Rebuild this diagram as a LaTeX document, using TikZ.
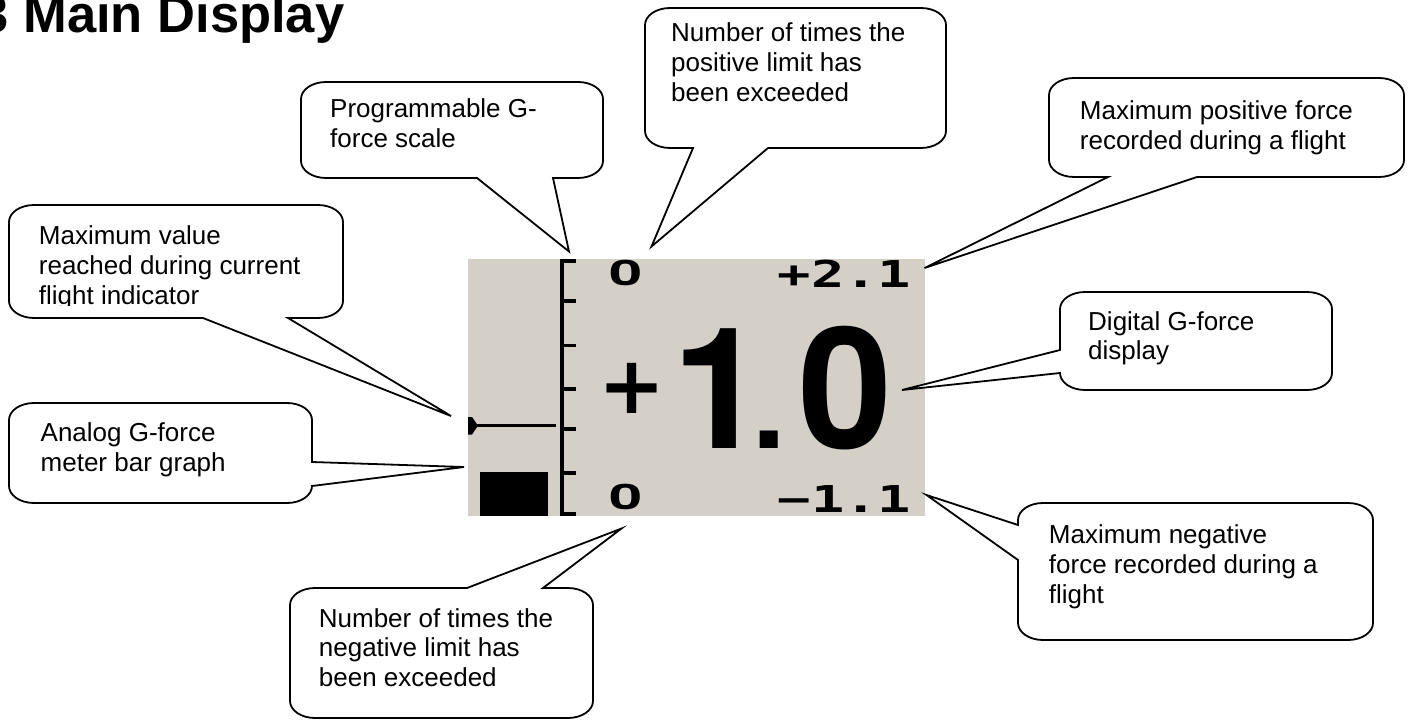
\documentclass[tikz,border=0pt]{standalone}
\usepackage{fontspec}
\usepackage{graphicx}
\setmainfont{Liberation Sans}
\newfontfamily\lcdmono{DejaVu Sans Mono}
\newfontfamily\plusfont{DejaVu Sans}
\newfontfamily\heros{TeX Gyre Heros}
\definecolor{lcdgray}{HTML}{D4D0C8}
\newcommand\ctext[1]{\vtop{\baselineskip=29.9pt\lineskiplimit=-50pt\halign{##\hfil\cr#1\crcr}}}
\def\rx{25}
\def\ry{17}
% callout outlines: x1 y1 x2 y2 a b tip
\newcommand\cobottom[7]{\draw[calloutline] (#1,#2+\ry) arc[start angle=180,end angle=270,x radius=\rx,y radius=\ry] -- (#3-\rx,#2) arc[start angle=270,end angle=360,x radius=\rx,y radius=\ry] -- (#3,#4-\ry) arc[start angle=0,end angle=90,x radius=\rx,y radius=\ry] -- (#6,#4) -- (#7) -- (#5,#4) -- (#1+\rx,#4) arc[start angle=90,end angle=180,x radius=\rx,y radius=\ry] -- cycle;}
\newcommand\cotop[7]{\draw[calloutline] (#1,#2+\ry) arc[start angle=180,end angle=270,x radius=\rx,y radius=\ry] -- (#5,#2) -- (#7) -- (#6,#2) -- (#3-\rx,#2) arc[start angle=270,end angle=360,x radius=\rx,y radius=\ry] -- (#3,#4-\ry) arc[start angle=0,end angle=90,x radius=\rx,y radius=\ry] -- (#1+\rx,#4) arc[start angle=90,end angle=180,x radius=\rx,y radius=\ry] -- cycle;}
\newcommand\coright[7]{\draw[calloutline] (#1,#2+\ry) arc[start angle=180,end angle=270,x radius=\rx,y radius=\ry] -- (#3-\rx,#2) arc[start angle=270,end angle=360,x radius=\rx,y radius=\ry] -- (#3,#5) -- (#7) -- (#3,#6) -- (#3,#4-\ry) arc[start angle=0,end angle=90,x radius=\rx,y radius=\ry] -- (#1+\rx,#4) arc[start angle=90,end angle=180,x radius=\rx,y radius=\ry] -- cycle;}
\newcommand\coleft[7]{\draw[calloutline] (#1,#2+\ry) arc[start angle=180,end angle=270,x radius=\rx,y radius=\ry] -- (#3-\rx,#2) arc[start angle=270,end angle=360,x radius=\rx,y radius=\ry] -- (#3,#4-\ry) arc[start angle=0,end angle=90,x radius=\rx,y radius=\ry] -- (#1+\rx,#4) arc[start angle=90,end angle=180,x radius=\rx,y radius=\ry] -- (#1,#6) -- (#7) -- (#1,#5) -- cycle;}
\begin{document}
\begin{tikzpicture}[x=1pt,y=-1pt,
  calloutline/.style={draw=black,line width=1.8pt,fill=white,line join=miter},
  ctxt/.style={anchor=base west,inner sep=0pt,font=\fontsize{26}{29.9}\selectfont},
  lcdsmall/.style={inner sep=0pt,font=\lcdmono\bfseries\fontsize{37}{40}\selectfont},
  lcdzero/.style={inner sep=0pt,font=\heros\bfseries\fontsize{35}{38}\selectfont},
  lcdbig/.style={inner sep=0pt,font=\heros\bfseries\fontsize{169}{180}\selectfont}]
\useasboundingbox (0,0) rectangle (1411,722);
\fill[white] (0,0) rectangle (1411,722);
% title
\node[anchor=base west,inner sep=0pt,font=\bfseries\fontsize{52.5}{60}\selectfont] (title) at (-20.5,32.5) {3 Main Display};
% display
\fill[lcdgray] (468,259) rectangle (925,516);
\fill (560,259) rectangle (564,516);
\foreach \yy in {261,301,345.5,389,429,473,514} \fill (564,\yy-1.6) rectangle (576,\yy+1.6);
\fill (470,424.3) rectangle (556,427.1);
\fill (468,417) -- (472,417) -- (478,425.7) -- (472,434.5) -- (468,434.5) -- cycle;
\fill (480,472) rectangle (548,516);
\node[lcdzero] (zt) at (626.5,272.5) {\scalebox{1.7}[1]{0}};
\node[lcdzero] (zb) at (626.5,497) {\scalebox{1.7}[1]{0}};
\node[lcdsmall] (pmax) at (844.5,273.5) {\scalebox{1.5}[1]{+2.1}};
\node[lcdsmall] (nmax) at (844.5,499) {\scalebox{1.5}[1]{−1.1}};
\node[inner sep=0pt,font=\plusfont\bfseries\fontsize{80}{90}\selectfont] (plus) at (632,388) {+};
\node[lcdbig,anchor=base west] (gval) at (672.3,448) {1\kern-14pt{\fontsize{120}{130}\selectfont.}\kern12.9pt 0};
% tips
\coordinate (t1) at (569,251.5);
\coordinate (t2) at (651.5,246.5);
\coordinate (t3) at (451,416);
\coordinate (t4) at (464,467);
\coordinate (t5) at (924.5,268);
\coordinate (t6) at (902,390);
\coordinate (t7) at (926.5,495);
\coordinate (t8) at (621.5,528.5);
% callouts
\cobottom{301}{82}{603}{178}{477}{553}{t1}
\node[ctxt] (c1) at (330,118) {\ctext{Programmable G-\cr force scale}};
\cobottom{645}{8}{946}{148}{693}{768}{t2}
\node[ctxt] (c2) at (671,41.7) {\ctext{Number of times the\cr positive limit has\cr been exceeded}};
\cobottom{9}{205}{343}{318}{203}{288}{t3}
\begin{scope}
\clip (0,0) rectangle (1411,305.5);
\node[ctxt] (c3) at (38.7,244.5) {\ctext{Maximum value\cr reached during current\cr flight indicator}};
\end{scope}
\coright{9}{403}{312}{503}{462}{486}{t4}
\node[ctxt] (c4) at (40.5,441.7) {\ctext{Analog G-force\cr meter bar graph}};
\cobottom{1049}{78}{1404}{177}{1108}{1197}{t5}
\node[ctxt] (c5) at (1079.7,119.5) {\ctext{Maximum positive force\cr recorded during a flight}};
\coleft{1060}{292}{1332}{390}{350}{373}{t6}
\node[ctxt] (c6) at (1088,330) {\ctext{Digital G-force\cr display}};
\coleft{1018}{503}{1373}{640}{525}{560}{t7}
\node[ctxt] (c7) at (1048.7,543.3) {\ctext{Maximum negative\cr force recorded during a\cr flight}};
\cotop{290}{588}{593}{718}{467}{543}{t8}
\node[ctxt] (c8) at (318.7,627) {\ctext{Number of times the\cr negative limit has\cr been exceeded}};
\end{tikzpicture}
\end{document}
